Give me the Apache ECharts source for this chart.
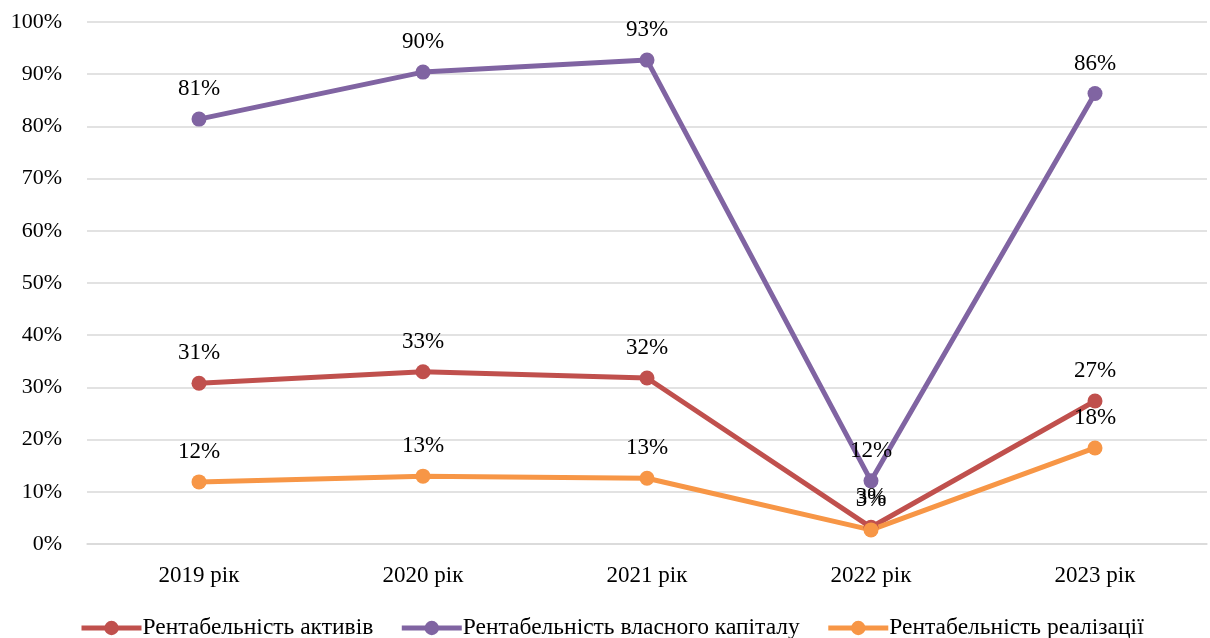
<!DOCTYPE html>
<html>
<head>
<meta charset="utf-8">
<script src="https://cdn.jsdelivr.net/npm/echarts@6/dist/echarts.min.js"></script>
<style>
  html, body { margin: 0; padding: 0; background: #fff; }
  #chart { width: 1210px; height: 638px; }
</style>
</head>
<body>
<div id="chart"></div>
<script>
// Profitability ratios by year, in percent
const years = ['2019 рік', '2020 рік', '2021 рік', '2022 рік', '2023 рік'];
const assetsReturn = [30.8, 33.0, 31.8, 3.2, 27.4];
const equityReturn = [81.4, 90.4, 92.7, 12.1, 86.3];
const salesReturn = [11.9, 13.0, 12.6, 2.7, 18.4];

const FONT = '"Liberation Serif", "Times New Roman", serif';

function lineSeries(name, data, color) {
  return {
    name: name,
    type: 'line',
    data: data,
    symbol: 'circle',
    symbolSize: 15,
    lineStyle: { width: 5, color: color },
    itemStyle: { color: color },
    label: {
      show: true,
      position: 'top',
      distance: 11,
      fontFamily: FONT,
      fontSize: 23,
      color: '#000',
      formatter: p => Math.round(p.value) + '%'
    },
    emphasis: { disabled: true }
  };
}

const chart = echarts.init(document.getElementById('chart'));
chart.setOption({
  animation: false,
  grid: { left: 87, right: 3, top: 22, bottom: 94 },
  legend: {
    top: 611,
    left: 74,
    itemWidth: 60,
    itemHeight: 18,
    itemGap: 26,
    lineStyle: { width: 5 },
    textStyle: { fontFamily: FONT, fontSize: 23.5, color: '#000', padding: [0, 0, 0, -4] },
    data: ['Рентабельність активів', 'Рентабельність власного капіталу', 'Рентабельність реалізації']
  },
  xAxis: {
    type: 'category',
    data: years,
    boundaryGap: true,
    axisLine: { lineStyle: { color: '#d9d9d9', width: 1.5 } },
    axisTick: { show: false },
    axisLabel: { fontFamily: FONT, fontSize: 23, color: '#000', margin: 20 }
  },
  yAxis: {
    type: 'value',
    min: 0,
    max: 100,
    interval: 10,
    axisLine: { show: false },
    axisTick: { show: false },
    splitLine: { lineStyle: { color: '#d9d9d9', width: 1.5 } },
    axisLabel: { fontFamily: FONT, fontSize: 22, color: '#000', margin: 25, formatter: v => v + '%' }
  },
  series: [
    lineSeries('Рентабельність активів', assetsReturn, '#C0504D'),
    lineSeries('Рентабельність власного капіталу', equityReturn, '#8064A2'),
    lineSeries('Рентабельність реалізації', salesReturn, '#F79646')
  ]
});
</script>
</body>
</html>
